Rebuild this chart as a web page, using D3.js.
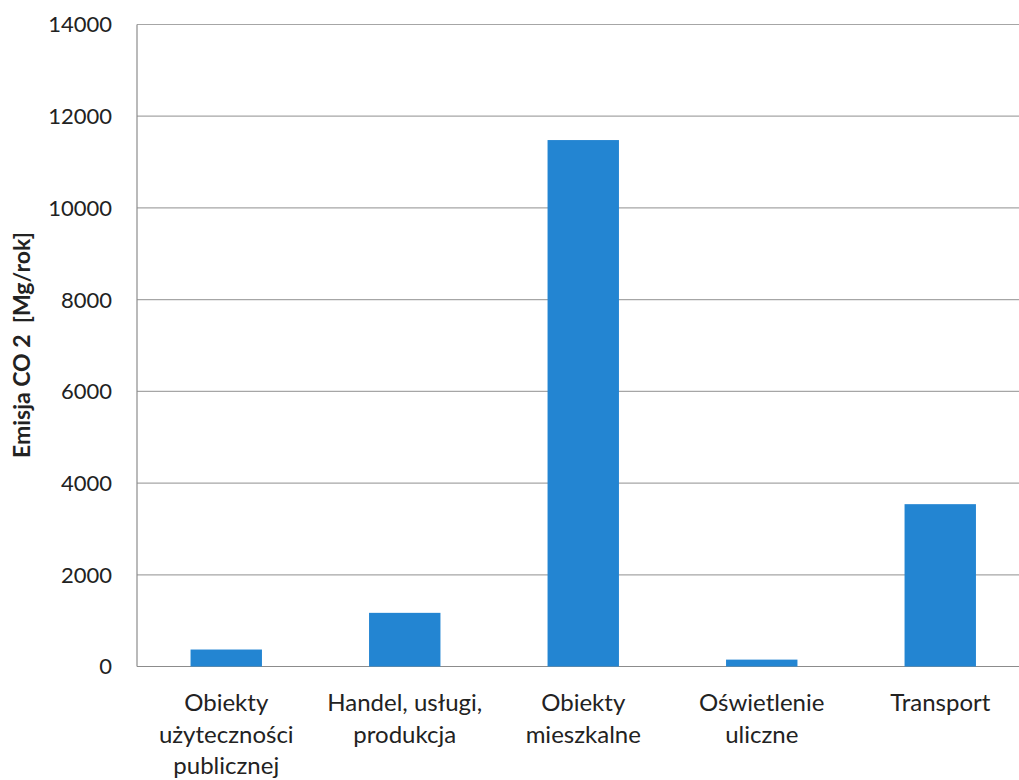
<!DOCTYPE html>
<html>
<head>
<meta charset="utf-8">
<title>Emisja CO2</title>
<style>
    body { margin: 0; background: #fff; }
    text { font-family: "Lato", "Open Sans", sans-serif; fill: #222; }
</style>
<script src="https://d3js.org/d3.v7.min.js"></script>
</head>
<body>
<script>
// data
var categories = [
    ["Obiekty", "użyteczności", "publicznej"],
    ["Handel, usługi,", "produkcja"],
    ["Obiekty", "mieszkalne"],
    ["Oświetlenie", "uliczne"],
    ["Transport"]
];
var values = [370, 1170, 11480, 150, 3540];
var yTicks = [0, 2000, 4000, 6000, 8000, 10000, 12000, 14000];

var width = 1019, height = 780;
var plotLeft = 137, plotRight = 1029.5, plotTop = 24.5, plotBottom = 666.5;

var svg = d3.select("body").append("svg")
    .attr("width", width)
    .attr("height", height);

var x = d3.scaleBand()
    .domain(d3.range(values.length))
    .range([plotLeft, plotRight])
    .paddingInner(0.6)
    .paddingOuter(0.3);

var y = d3.scaleLinear()
    .domain([0, 14000])
    .range([plotBottom, plotTop]);

// gridlines
svg.append("g").selectAll("line")
    .data(yTicks)
    .enter().append("line")
    .attr("x1", plotLeft).attr("x2", width)
    .attr("y1", function(d){ return y(d); })
    .attr("y2", function(d){ return y(d); })
    .attr("stroke", function(d){ return d === 0 ? "#8c8c8c" : "#a6a6a6"; })
    .attr("stroke-width", 1.2);

// y axis line
svg.append("line")
    .attr("x1", plotLeft).attr("x2", plotLeft)
    .attr("y1", plotTop).attr("y2", plotBottom)
    .attr("stroke", "#8c8c8c").attr("stroke-width", 1.2);

// y tick labels
svg.append("g").selectAll("text")
    .data(yTicks)
    .enter().append("text")
    .attr("x", 112)
    .attr("y", function(d){ return y(d); })
    .attr("dy", "0.36em")
    .attr("text-anchor", "end")
    .style("font-size", "22px")
    .text(function(d){ return d; });

// bars
svg.append("g").selectAll("rect")
    .data(values)
    .enter().append("rect")
    .attr("x", function(d, i){ return x(i); })
    .attr("width", x.bandwidth())
    .attr("y", function(d){ return y(d); })
    .attr("height", function(d){ return y(0) - y(d); })
    .attr("fill", "#2385d2");

// category labels
var lab = svg.append("g").selectAll("text")
    .data(categories)
    .enter().append("text")
    .attr("text-anchor", "middle")
    .style("font-size", "24px")
    .attr("transform", function(d, i){ return "translate(" + (x(i) + x.bandwidth() / 2) + ",711)"; });
lab.selectAll("tspan")
    .data(function(d){ return d; })
    .enter().append("tspan")
    .attr("x", 0)
    .attr("y", function(d, j){ return j * 31.5; })
    .text(function(d){ return d; });

// y title
svg.append("text")
    .attr("transform", "translate(30,345) rotate(-90)")
    .attr("text-anchor", "middle")
    .style("font-size", "23px")
    .style("font-weight", "bold")
    .attr("xml:space", "preserve")
    .text("Emisja CO 2  [Mg/rok]");
</script>
</body>
</html>
